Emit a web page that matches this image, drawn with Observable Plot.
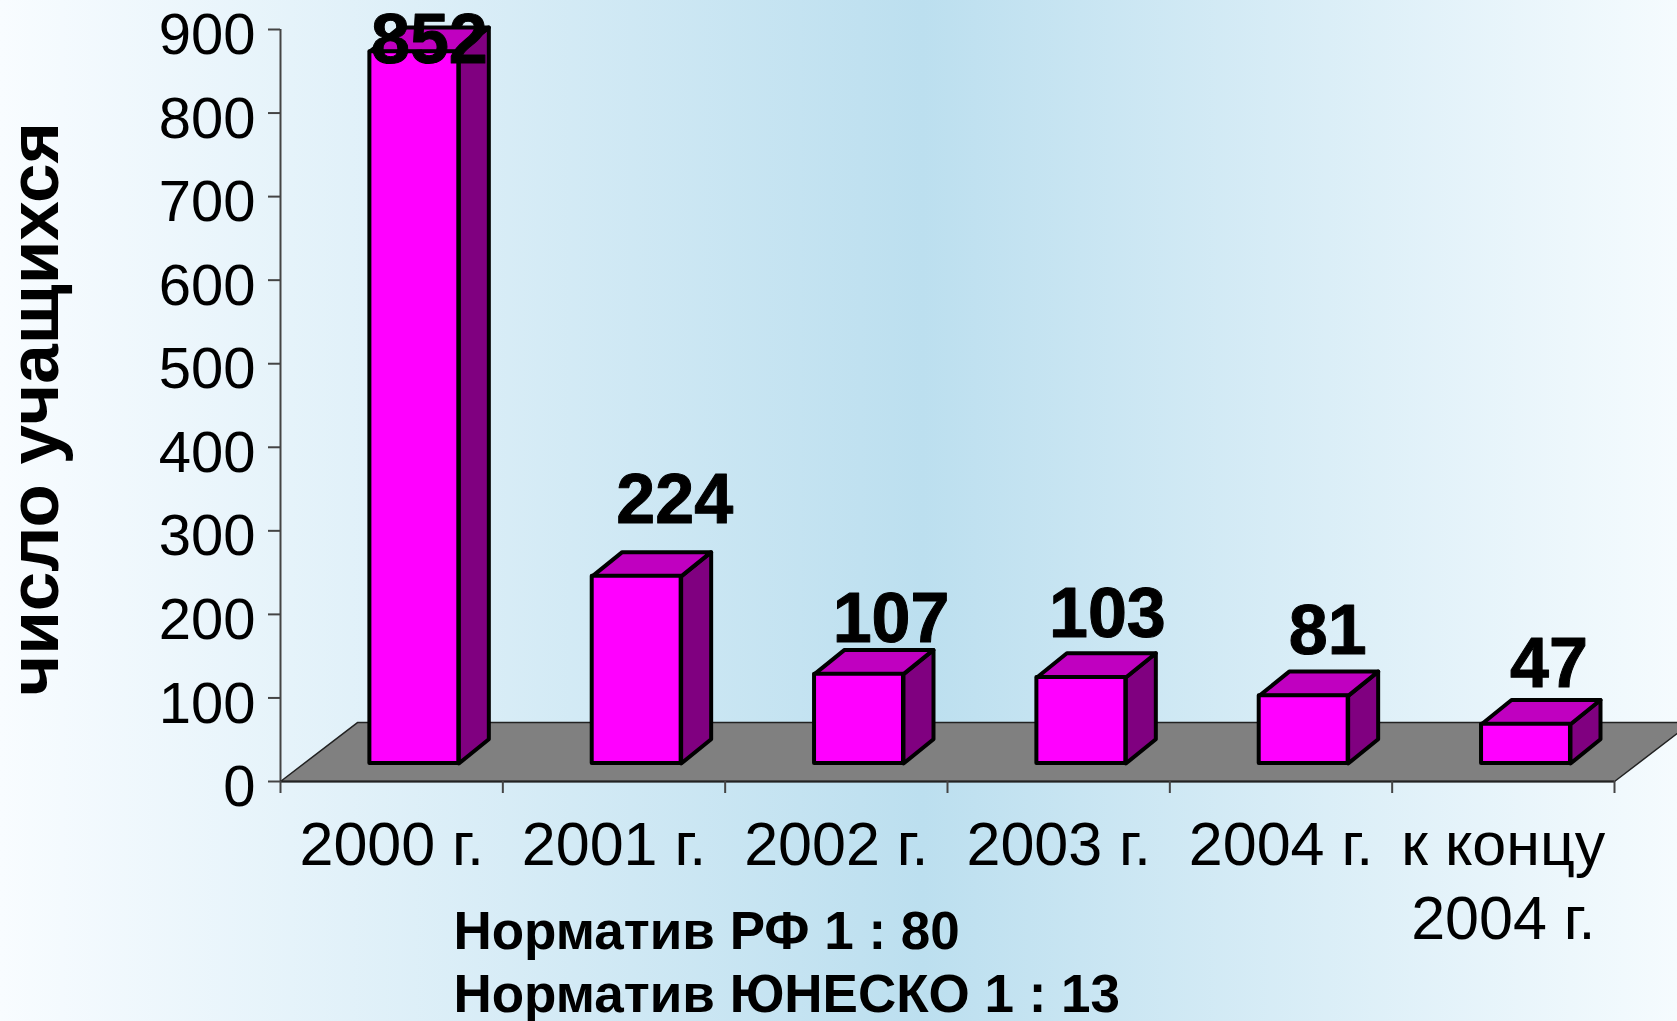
<!DOCTYPE html>
<html lang="ru">
<head>
<meta charset="utf-8">
<title>Число учащихся</title>
<script src="https://cdn.jsdelivr.net/npm/d3@7"></script>
<script src="https://cdn.jsdelivr.net/npm/@observablehq/plot@0.6"></script>
<style>
html,body{margin:0;padding:0;width:1677px;height:1021px;overflow:hidden;
background:linear-gradient(90deg,#f8fcff 0%,#bcdfef 55%,#f5fbfe 100%);}
svg{display:block;background:transparent!important}
</style>
</head>
<body>
<div id="chart"></div>
<script>
const categories = ["2000 г.", "2001 г.", "2002 г.", "2003 г.", "2004 г.", "к концу\n2004 г."];
const values = [852, 224, 107, 103, 81, 47];
const yTicks = [0, 100, 200, 300, 400, 500, 600, 700, 800, 900];
const yTitle = "число учащихся";
const notes = "Норматив РФ 1 : 80\nНорматив ЮНЕСКО 1 : 13";

// Pseudo-3D geometry, in data units of the two scales
const barStart = 0.402, barWidth = 0.4;
const lift = 21.5, depthX = 0.135, depthY = 29;
const floorDepthX = 0.346, floorDepthY = 70.5;
// Hand placement of the value labels relative to the top of each box, px
const labelDx = [0, 23, 17, 11, 9, 8];
const labelDy = [36, -29, -7.5, -16, -18, -13];

const rows = values.map((v, i) => ({
  i, v, label: categories[i],
  x1: i + barStart, x2: i + barStart + barWidth,
  y1: lift, y2: lift + v
}));
const floor = [
  {x: 0, y: 0}, {x: 6, y: 0},
  {x: 6 + floorDepthX, y: floorDepthY}, {x: floorDepthX, y: floorDepthY}
];
const sides = rows.flatMap(r => [
  {z: r.i, x: r.x2, y: r.y1}, {z: r.i, x: r.x2 + depthX, y: r.y1 + depthY},
  {z: r.i, x: r.x2 + depthX, y: r.y2 + depthY}, {z: r.i, x: r.x2, y: r.y2}
]);
const tops = rows.flatMap(r => [
  {z: r.i, x: r.x1, y: r.y2}, {z: r.i, x: r.x2, y: r.y2},
  {z: r.i, x: r.x2 + depthX, y: r.y2 + depthY}, {z: r.i, x: r.x1 + depthX, y: r.y2 + depthY}
]);
const box = {stroke: "#000", strokeWidth: 4, strokeLinejoin: "round"};
const font = "'Liberation Sans', Arial, sans-serif";

const plot = Plot.plot({
  width: 1677, height: 1021,
  marginLeft: 280, marginRight: 63, marginTop: 29, marginBottom: 240,
  style: {fontFamily: font, color: "#000", background: "transparent"},
  x: {domain: [0, 6], range: [280, 1614]},
  y: {domain: [0, 900], range: [781, 29]},
  marks: [
    Plot.line(floor, {x: "x", y: "y", curve: "linear-closed", fill: "#808080", stroke: "#222", strokeWidth: 1.5}),
    Plot.ruleX([0], {stroke: "#444", strokeWidth: 2}),
    Plot.ruleY([0], {x1: 0, x2: 6, stroke: "#222", strokeWidth: 2}),
    Plot.axisY({ticks: yTicks, tickSize: 12, tickFormat: () => "", stroke: "#444", strokeWidth: 2, label: null}),
    Plot.axisY({ticks: yTicks, tickSize: 0, tickPadding: 25, fontSize: 58, dy: 6, label: null, tickFormat: d => String(d)}),
    Plot.axisX({ticks: d3.range(0, 7), tickSize: 12, tickFormat: () => "", stroke: "#444", strokeWidth: 2, label: null}),
    Plot.line(sides, {x: "x", y: "y", z: "z", curve: "linear-closed", fill: "#800080", ...box}),
    Plot.line(tops, {x: "x", y: "y", z: "z", curve: "linear-closed", fill: "#c000c0", ...box}),
    Plot.rect(rows, {x1: "x1", x2: "x2", y1: "y1", y2: "y2", fill: "#ff00ff", ...box}),
    ...rows.map(r => Plot.text([r], {
      x: d => d.x1 + (barWidth + depthX) / 2, y: d => d.y2 + depthY, text: d => String(d.v),
      fontSize: 70, fontWeight: "bold", fill: "#000", stroke: "#000", strokeWidth: 1, lineAnchor: "bottom",
      dx: labelDx[r.i], dy: labelDy[r.i]
    })),
    Plot.text(rows, {
      x: d => d.i + 0.5, y: () => 0, text: "label", fontSize: 61, fill: "#000",
      lineAnchor: "top", dy: 32, lineHeight: 1.2
    }),
    Plot.text([notes], {
      x: () => 0.778, y: () => 0, fontSize: 53, fontWeight: "bold", fill: "#000",
      textAnchor: "start", lineAnchor: "top", dy: 122, lineHeight: 1.2
    }),
    Plot.text([yTitle], {
      frameAnchor: "left", rotate: -90, dx: -223, dy: 3.5, fontSize: 71, fontWeight: "bold", fill: "#000",
      textAnchor: "middle", lineAnchor: "bottom"
    })
  ]
});
document.getElementById("chart").appendChild(plot);
</script>
</body>
</html>
